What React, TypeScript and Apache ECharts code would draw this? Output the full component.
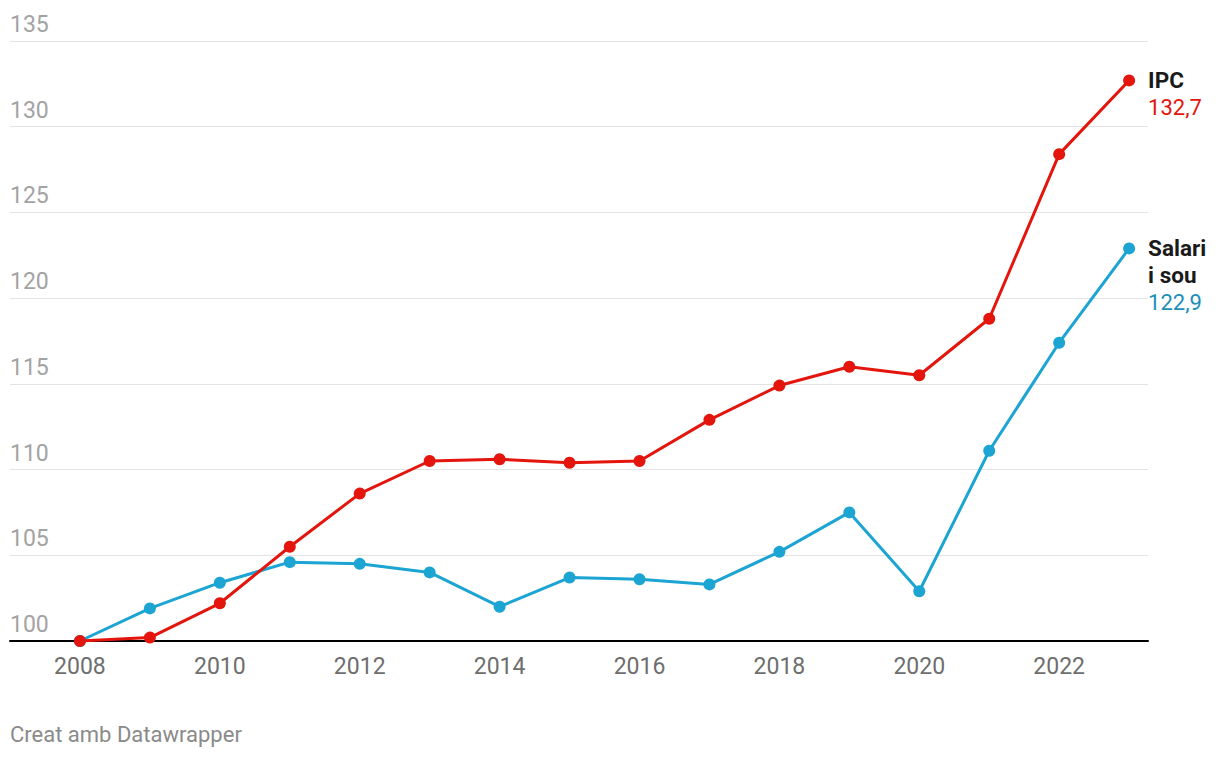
import React, { useEffect, useRef } from "react";
import * as echarts from "echarts";

const years = [2008, 2009, 2010, 2011, 2012, 2013, 2014, 2015, 2016, 2017, 2018, 2019, 2020, 2021, 2022, 2023];
const ipc = [100, 100.2, 102.2, 105.5, 108.6, 110.5, 110.6, 110.4, 110.5, 112.9, 114.9, 116.0, 115.5, 118.8, 128.4, 132.7];
const salari = [100, 101.9, 103.4, 104.6, 104.5, 104.0, 102.0, 103.7, 103.6, 103.3, 105.2, 107.5, 102.9, 111.1, 117.4, 122.9];
const seriesNames = ["IPC", "Salari\ni sou"];
const yTicks = [100, 105, 110, 115, 120, 125, 130, 135];
const footer = "Creat amb Datawrapper";

const RED = "#e3150c";
const BLUE = "#1ca4d2";
const BLUE_TEXT = "#1b8fb8";

function fmt(v: number) {
  return v.toFixed(1).replace(".", ",");
}

function buildData(vals: number[], name: string, color: string, textColor: string, lines: number) {
  return vals.map((v, i) => {
    const item: any = { value: [years[i], v] };
    if (i === vals.length - 1) {
      item.label = {
        show: true,
        position: "right",
        distance: 13,
        offset: [0, (lines - 1) * 13.5],
        formatter: () => name.split("\n").map((s) => `{n|${s}}`).join("\n") + `\n{v|${fmt(v)}}`,
        rich: {
          n: { fontFamily: "Roboto", fontWeight: "bold", fontSize: 22.5, color: "#1a1a1a", lineHeight: 27 },
          v: { fontFamily: "Roboto", fontSize: 22, color: textColor, lineHeight: 27 },
        },
        align: "left",
      };
    }
    return item;
  });
}

export default function App() {
  const ref = useRef<HTMLDivElement>(null);
  useEffect(() => {
    const chart = echarts.init(ref.current!, null, { renderer: "svg" });
    chart.setOption({
      animation: false,
      backgroundColor: "#ffffff",
      textStyle: { fontFamily: "Roboto" },
      title: {
        text: footer,
        left: 10,
        top: 723,
        padding: 0,
        textStyle: { fontFamily: "Roboto", fontSize: 22, fontWeight: "normal", color: "#8a8a8a" },
      },
      grid: { left: 10, right: 72, top: 41, bottom: 117, containLabel: false },
      xAxis: {
        type: "value",
        min: 2007,
        max: 2023.27,
        interval: 1,
        splitLine: { show: false },
        axisTick: { show: false },
        axisLine: { show: true, lineStyle: { color: "#000000", width: 2 } },
        axisLabel: {
          margin: 14,
          fontSize: 23,
          color: "#6e6e6e",
          fontFamily: "Roboto",
          showMinLabel: false,
          showMaxLabel: false,
          formatter: (v: number) => (Number.isInteger(v) && v % 2 === 0 && years.includes(v) ? String(v) : ""),
        },
      },
      yAxis: {
        type: "value",
        min: yTicks[0],
        max: yTicks[yTicks.length - 1],
        interval: 5,
        axisLine: { show: false },
        axisTick: { show: false },
        splitLine: { show: true, lineStyle: { color: "#e3e3e3", width: 1 } },
        axisLabel: {
          inside: true,
          margin: 0,
          fontSize: 23,
          color: "#a3a3a3",
          fontFamily: "Roboto",
          verticalAlign: "bottom",
          padding: [0, 0, 5, 0],
        },
      },
      series: [
        {
          name: seriesNames[1],
          type: "line",
          data: buildData(salari, seriesNames[1], BLUE, BLUE_TEXT, 3),
          symbol: "circle",
          symbolSize: 12,
          lineStyle: { color: BLUE, width: 3 },
          itemStyle: { color: BLUE },
          z: 2,
        },
        {
          name: seriesNames[0],
          type: "line",
          data: buildData(ipc, seriesNames[0], RED, RED, 2),
          symbol: "circle",
          symbolSize: 12,
          lineStyle: { color: RED, width: 3 },
          itemStyle: { color: RED },
          z: 3,
        },
      ],
    });
    return () => chart.dispose();
  }, []);
  return <div ref={ref} style={{ position: "fixed", left: 0, top: 0, width: 1220, height: 758 }} />;
}
